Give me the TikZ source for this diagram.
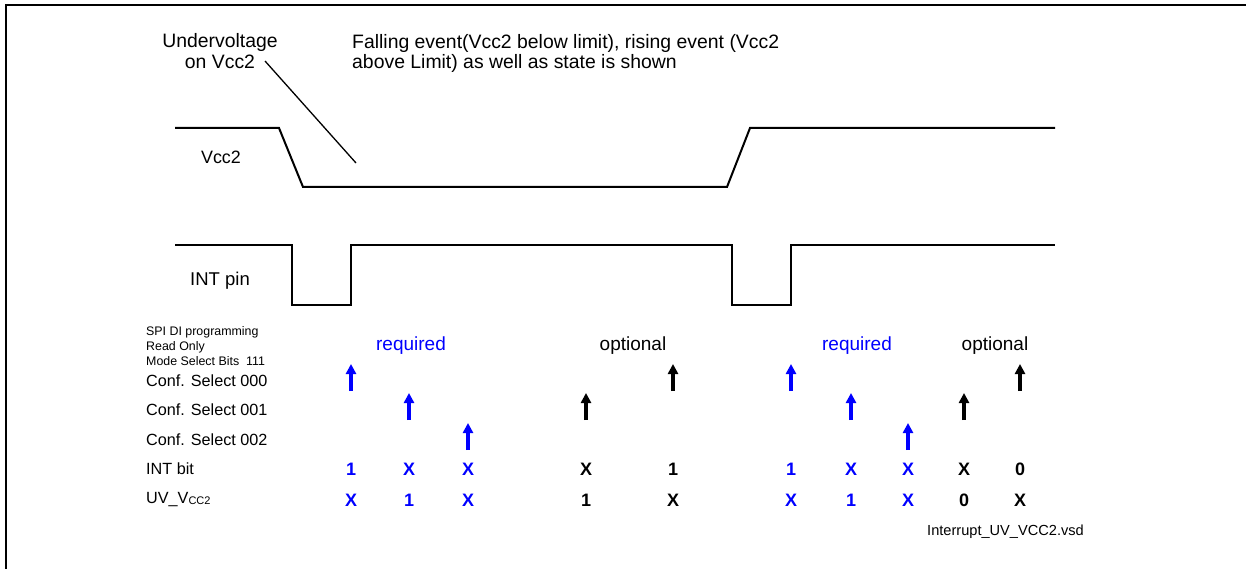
\documentclass[tikz,border=0pt]{standalone}
\usepackage{fontspec}
\setmainfont{Liberation Sans}
\usetikzlibrary{arrows.meta}
\definecolor{req}{RGB}{0,0,255}

\begin{document}
\begin{tikzpicture}[x=1pt,y=-1pt]
\tikzstyle{txt}=[inner sep=0pt,font=\fontsize{18.5}{21}\selectfont]
\tikzstyle{lbl}=[inner sep=0pt,anchor=west,font=\fontsize{16.2}{18}\selectfont]
\tikzstyle{small}=[inner sep=0pt,anchor=west,align=left,font=\fontsize{12.4}{15}\selectfont]
\tikzstyle{val}=[inner sep=0pt,font=\fontsize{18}{20}\selectfont\bfseries]
\tikzstyle{mode}=[inner sep=0pt,font=\fontsize{19}{21}\selectfont]
\tikzstyle{wave}=[line width=2pt,line join=miter]
\tikzstyle{flag}=[line width=4pt,-{Triangle[width=10pt,length=10pt]}]
\useasboundingbox (0,0) rectangle (1246,569);
\draw[line width=2pt] (6,569) -- (6,5) -- (1246,5);

% Vcc2 and INT pin
\draw[wave] (175,128) -- (279,128) -- (303,187) -- (727,187) -- (750,128) -- (1055,128);
\draw[wave] (175,245) -- (292,245) -- (292,305) -- (351,305) -- (351,245)
  -- (732,245) -- (732,305) -- (791,305) -- (791,245) -- (1055,245);

\node[txt,align=center,font=\fontsize{19.4}{21}\selectfont] (uv) at (220,51) {Undervoltage\\on Vcc2};
\coordinate (p1) at (265,61);
\coordinate (p2) at (356,163);
\draw[line width=1.3pt] (p1) -- (p2);
\node[txt,anchor=west,align=left,font=\fontsize{19.4}{20}\selectfont] (note) at (352,53)
  {Falling event(Vcc2 below limit), rising event (Vcc2\\above Limit) as well as state is shown};
\node[txt,font=\fontsize{17.9}{20}\selectfont] (vcc) at (221,157) {Vcc2};
\node[txt] (pin) at (220,281) {INT pin};

% SPI rows
\node[small] (spi) at (146,346) {SPI DI programming\\Read Only\\Mode Select Bits\ \ 111};
\node[lbl] (c0) at (146,381) {Conf. Select 000};
\node[lbl] (c1) at (146,410) {Conf. Select 001};
\node[lbl] (c2) at (146,440) {Conf. Select 002};
\node[lbl] (ib) at (146,469) {INT bit};
\node[lbl] (ub) at (146,500) {UV\_V\raisebox{-1pt}{\fontsize{11}{11}\selectfont CC2}};

\node[mode,text=req] (r1) at (411,346) {required};
\node[mode] (o1) at (633,346) {optional};
\node[mode,text=req] (r2) at (857,346) {required};
\node[mode] (o2) at (995,346) {optional};

\foreach \x/\r/\i/\u/\c in {351/381/1/X/req,409/410/X/1/req,468/440/X/X/req,
  586/410/X/1/black,673/381/1/X/black,791/381/1/X/req,851/410/X/1/req,
  908/440/X/X/req,964/410/X/0/black,1020/381/0/X/black}{
  \coordinate (f\x) at (\x,\r+10);
  \draw[flag,\c] (f\x) -- ++(0,-27);
  \node[val,text=\c] (i\x) at (\x,469) {\i};
  \node[val,text=\c] (u\x) at (\x,500) {\u};
}

\node[small,font=\fontsize{14.6}{16}\selectfont] (file) at (927,532) {Interrupt\_UV\_VCC2.vsd};
\end{tikzpicture}
\end{document}
